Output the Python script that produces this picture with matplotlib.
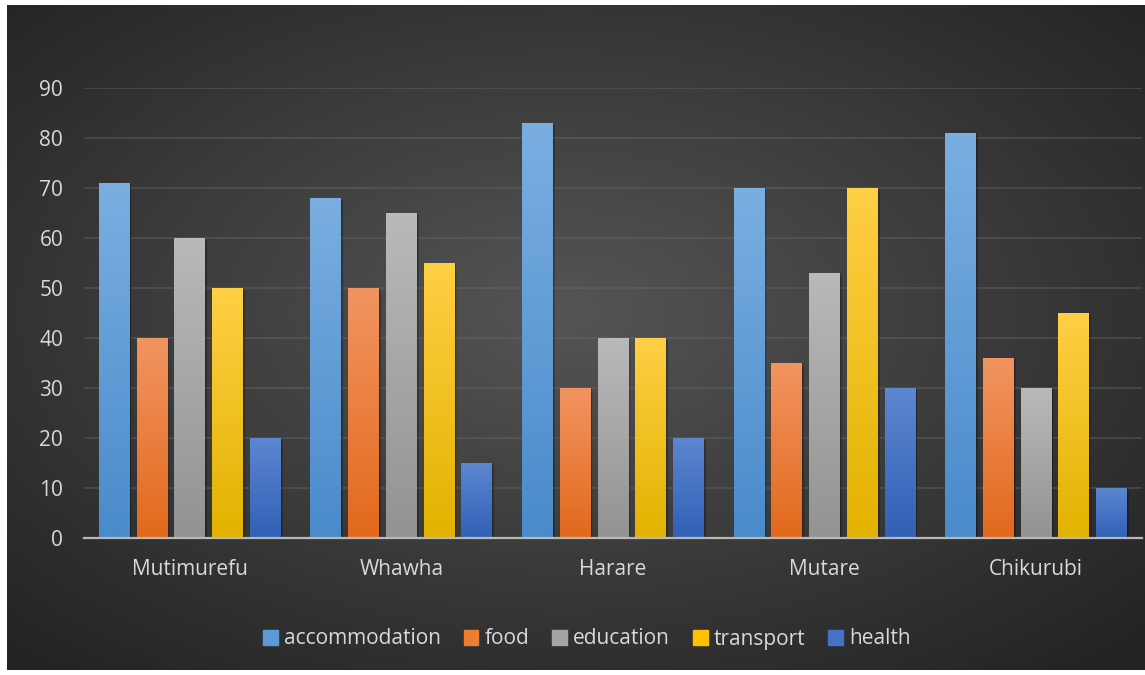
import numpy as np
import matplotlib
matplotlib.use("Agg")
import matplotlib.pyplot as plt
from matplotlib.patches import Patch, Rectangle
from matplotlib.colors import to_rgb

# ── Data ──────────────────────────────────────────────────────────
places = ["Mutimurefu", "Whawha", "Harare", "Mutare", "Chikurubi"]
series = ["accommodation", "food", "education", "transport", "health"]
accommodation = [71, 68, 83, 70, 81]
food = [40, 50, 30, 35, 36]
education = [60, 65, 40, 53, 30]
transport = [50, 55, 40, 70, 45]
health = [20, 15, 20, 30, 10]
values = [accommodation, food, education, transport, health]

# top (light) / bottom (dark) colours of each series' gradient
TOP = ["#7aaee1", "#f29461", "#b9b9b9", "#ffcf45", "#5b86d0"]
BOT = ["#4a8bcb", "#e2691c", "#939393", "#e3b200", "#3260b6"]
LEGEND_COL = ["#5b9bd5", "#ed7d31", "#a5a5a5", "#ffc000", "#4472c4"]
TEXT = "#d9d9d9"

plt.rcParams.update({
    "font.family": ["Open Sans", "DejaVu Sans"],
    "font.size": 15,
})

W, H = 1145, 675
fig = plt.figure(figsize=(W / 100, H / 100), dpi=100)
fig.patch.set_facecolor("white")

# ── Radial-gradient background (chart area) ──────────────────────
bg = fig.add_axes([7 / W, 1 - 670 / H, (W - 7) / W, (670 - 5) / H])
bg.set_axis_off()
yy, xx = np.mgrid[0:300, 0:500]
cx, cy = 250 * 0.98, 150 * 0.92
r = np.sqrt(((xx - cx) / 250) ** 2 + ((yy - cy) / 150) ** 2) / np.sqrt(2)
r = np.clip(r, 0, 1)
c0, c1 = np.array(to_rgb("#555555")), np.array(to_rgb("#232323"))
img = c0[None, None, :] * (1 - r[..., None]) + c1[None, None, :] * r[..., None]
bg.imshow(img, aspect="auto", extent=[0, 1, 0, 1], origin="upper")
bg.set_xlim(0, 1)
bg.set_ylim(0, 1)

# ── Main axes ─────────────────────────────────────────────────────
ax = fig.add_axes([84 / W, 1 - 538 / H, (1142 - 84) / W, (538 - 88) / H])
ax.patch.set_alpha(0)
ax.set_xlim(-0.5, len(places) - 0.5)
ax.set_ylim(0, 90)

x = np.arange(len(places))
pitch = 0.1786
width = 0.1465

def grad_img(top, bot):
    t = np.linspace(0, 1, 64)[:, None]
    a, b = np.array(to_rgb(top)), np.array(to_rgb(bot))
    return (a * (1 - t) + b * t)[:, None, :].repeat(2, axis=1)

for j, (name, vals) in enumerate(zip(series, values)):
    pos = x + (j - 2) * pitch
    bars = ax.bar(pos, vals, width, color=LEGEND_COL[j], zorder=3, label=name)
    g = grad_img(TOP[j], BOT[j])
    for b in bars:
        x0, w, h = b.get_x(), b.get_width(), b.get_height()
        # soft shadow to the right
        for k, a in enumerate([0.18, 0.12, 0.06]):
            ax.add_patch(Rectangle((x0 + w, 0), 0.004 * (k + 1), h - 0.4 * k,
                                   color="black", alpha=a, lw=0, zorder=2.5))
        im = ax.imshow(g, extent=[x0, x0 + w, 0, h], aspect="auto",
                       origin="upper", zorder=3.5, interpolation="bilinear")
        im.set_clip_path(b)

ax.set_yticks(range(0, 91, 10))
ax.grid(axis="y", color="#6a6a6a", alpha=0.45, lw=1.2, zorder=1)
ax.set_axisbelow(True)
for s in ["top", "right", "left"]:
    ax.spines[s].set_visible(False)
ax.spines["bottom"].set_color("#b8b8b8")
ax.spines["bottom"].set_linewidth(1.6)
ax.spines["bottom"].set_zorder(4)

ax.set_xticks(x)
ax.set_xticklabels(places)
ax.tick_params(axis="both", length=0, colors=TEXT, labelsize=15)
ax.tick_params(axis="x", pad=15)
ax.tick_params(axis="y", pad=15)

handles = [Patch(color=c, label=n) for c, n in zip(LEGEND_COL, series)]
leg = fig.legend(handles=handles, loc="center", bbox_to_anchor=(587 / W, 1 - 639 / H),
                 ncol=5, frameon=False, fontsize=15, labelcolor=TEXT,
                 handlelength=0.7, handleheight=0.7, handletextpad=0.3,
                 columnspacing=1.1)

fig.savefig("out.png", dpi=100)
